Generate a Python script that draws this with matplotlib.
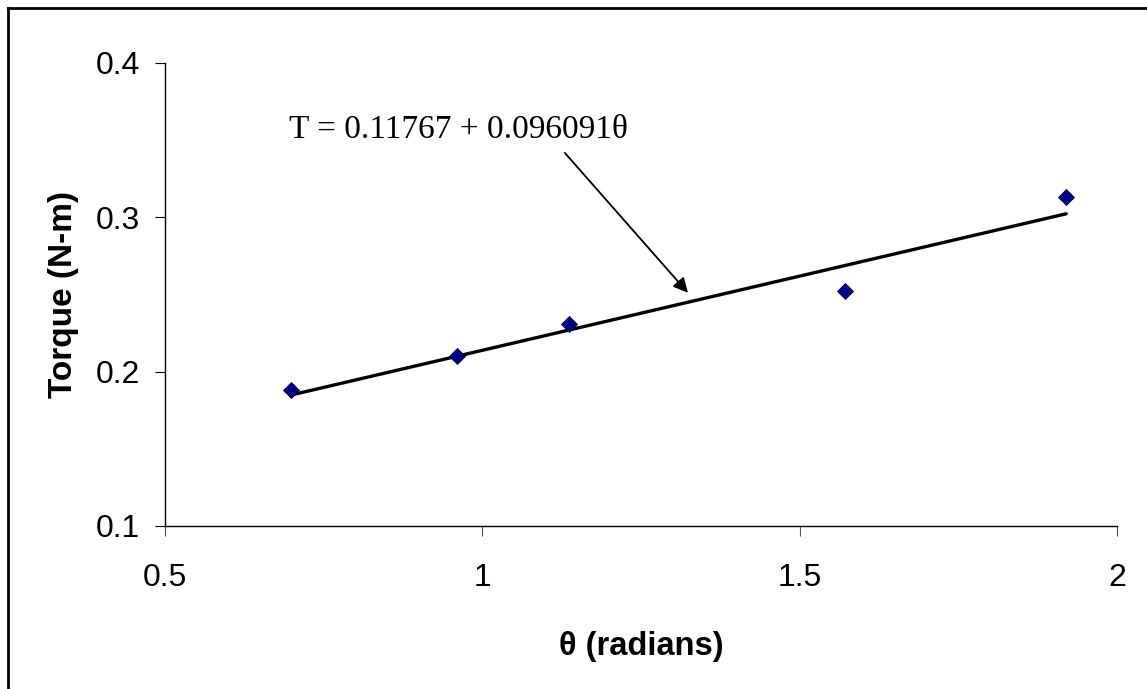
import matplotlib
matplotlib.use("Agg")
import matplotlib.pyplot as plt
import numpy as np
from matplotlib.lines import Line2D

theta = [0.698, 0.960, 1.136, 1.571, 1.920]
torque = [0.188, 0.210, 0.231, 0.252, 0.313]
intercept = 0.11767
slope = 0.096091
eq_label = "T = 0.11767 + 0.096091\u03b8"
xticks = [0.5, 1, 1.5, 2]
yticks = [0.1, 0.2, 0.3, 0.4]

fig = plt.figure(figsize=(11.47, 6.89), dpi=100)
ax = fig.add_axes([0.1439, 0.2366, 0.9738 - 0.1439, 0.909 - 0.2366])

fit_x = np.array([min(theta), max(theta)])
fit_y = intercept + slope * fit_x
ax.plot(fit_x, fit_y, color="black", lw=2.4, solid_capstyle="round", zorder=2)
ax.plot(theta, torque, linestyle="none", marker="D", markersize=7.8,
        markerfacecolor="#000080", markeredgecolor="#000040", markeredgewidth=0.6, zorder=3)

ax.set_xlim(0.5, 2)
ax.set_ylim(0.1, 0.4)
ax.set_xticks(xticks)
ax.set_xticklabels(["0.5", "1", "1.5", "2"])
ax.set_yticks(yticks)
ax.set_yticklabels(["0.1", "0.2", "0.3", "0.4"])

for s in ["top", "right"]:
    ax.spines[s].set_visible(False)
for s in ["left", "bottom"]:
    ax.spines[s].set_linewidth(1.0)
    ax.spines[s].set_color("black")

ax.tick_params(axis="y", direction="out", length=7, width=0.8, pad=11,
               labelsize=23, labelfontfamily="Liberation Sans")
ax.tick_params(axis="x", direction="out", length=7, width=0.8, pad=20,
               labelsize=23, labelfontfamily="Liberation Sans", color="#555555")

ax.set_xlabel("\u03b8 (radians)", fontsize=23.5, fontweight="bold",
              family="Liberation Sans", labelpad=27)
ax.set_ylabel("Torque (N-m)", fontsize=24, fontweight="bold",
              family="Liberation Sans", labelpad=12)

ax.text(0.695, 0.3513, eq_label, fontsize=24, family="Liberation Serif",
        ha="left", va="baseline")
ax.annotate("", xy=(1.324, 0.251), xytext=(1.130, 0.3416), textcoords="data",
            arrowprops=dict(arrowstyle="-|>", color="black", lw=1.3,
                            mutation_scale=22, shrinkA=0, shrinkB=0))

# outer border (left and top visible)
fig.add_artist(Line2D([8 / 1147, 8 / 1147], [0, 1 - 8 / 689], transform=fig.transFigure,
                      color="black", lw=2))
fig.add_artist(Line2D([8 / 1147, 1], [1 - 8 / 689, 1 - 8 / 689], transform=fig.transFigure,
                      color="black", lw=2))

fig.savefig("out.png", dpi=100)
